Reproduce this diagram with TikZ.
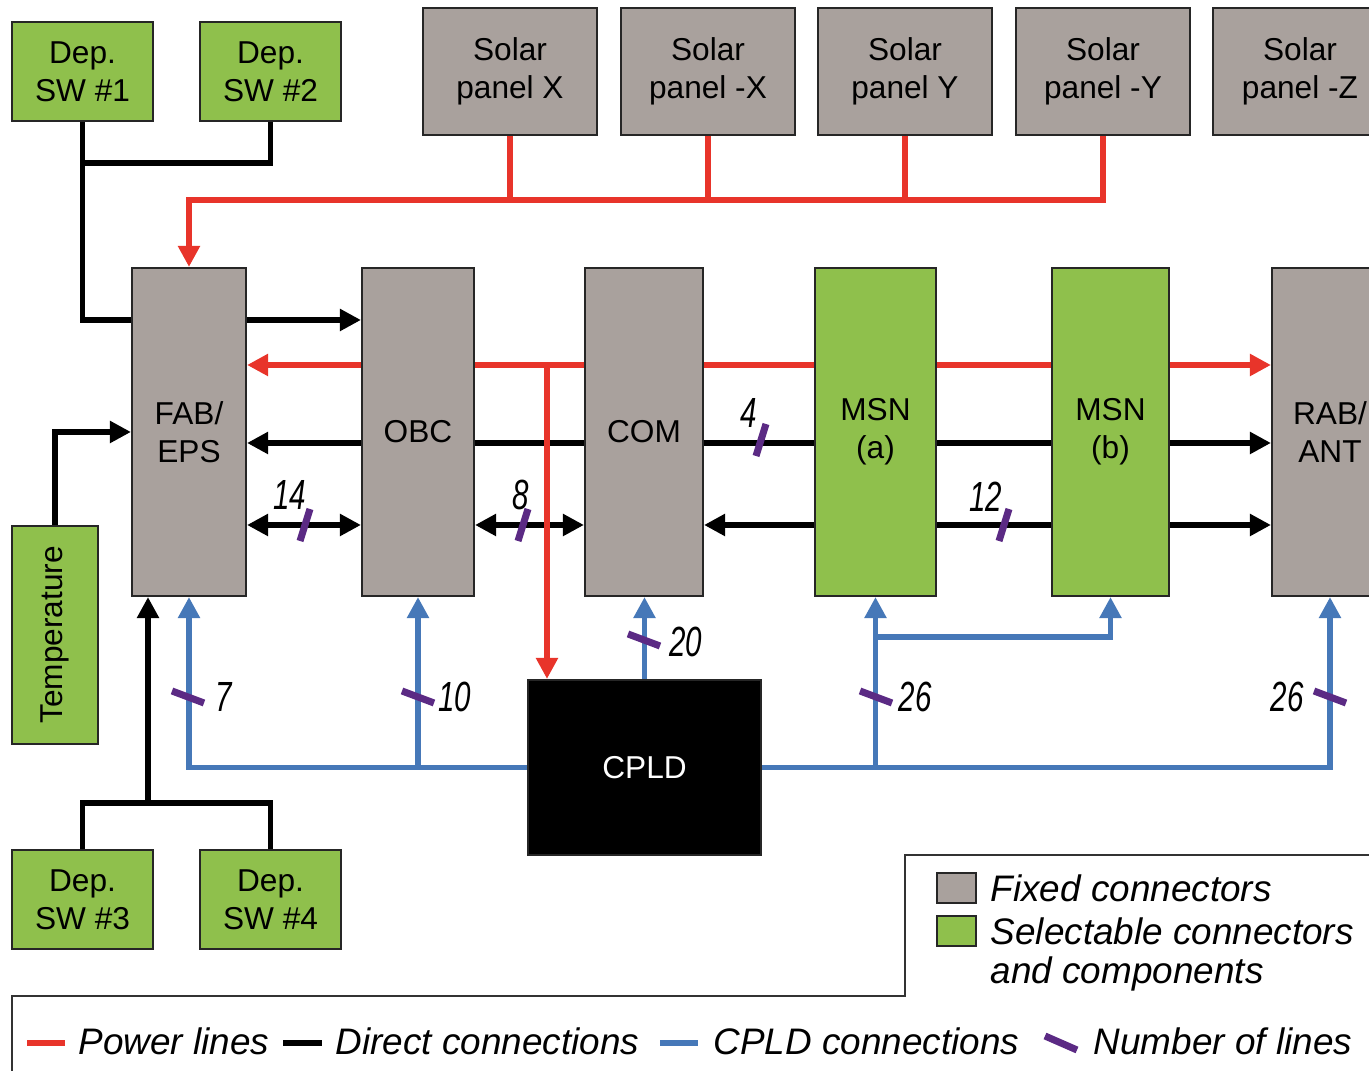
\documentclass[tikz,border=0pt]{standalone}
\usepackage{fontspec}
\setmainfont{Liberation Sans}
\usepackage{xcolor}
\usepackage{graphicx}
\usetikzlibrary{arrows.meta, positioning, calc}

\definecolor{fixgray}{HTML}{A9A19D}
\definecolor{selgreen}{HTML}{8FC04C}
\definecolor{pwred}{HTML}{E8342A}
\definecolor{cpldblue}{HTML}{4678B8}
\definecolor{nlpurple}{HTML}{5B2A84}

\tikzset{
    blk/.style={draw=black!85, line width=0.6pt, inner sep=0pt, align=center, font=\fontsize{9}{10.8}\selectfont},
    fixed/.style={blk, fill=fixgray},
    sel/.style={blk, fill=selgreen},
    pw/.style={pwred, line width=1.5pt},
    dc/.style={black, line width=1.7pt},
    cp/.style={cpldblue, line width=1.5pt},
    nl/.style={nlpurple, line width=2pt},
    num/.style={inner sep=0pt, font=\fontsize{12}{12}\selectfont\itshape},
    lgtext/.style={inner sep=0pt, anchor=west, font=\fontsize{10.5}{12}\selectfont\itshape},
}

\begin{document}
\begin{tikzpicture}[x=0.1mm, y=-0.1mm, >={Triangle[length=2.1mm,width=2.1mm]}]
    \useasboundingbox (0,0) rectangle (1369,1071);

    % deployment switches and temperature
    \node[sel, minimum width=14.1mm, minimum height=9.9mm] (sw1) at (82.5,71.5) {Dep.\\SW \#1};
    \node[sel, minimum width=14.1mm, minimum height=9.9mm] (sw2) at (270.5,71.5) {Dep.\\SW \#2};
    \node[sel, minimum width=14.1mm, minimum height=9.9mm] (sw3) at (82.5,899.5) {Dep.\\SW \#3};
    \node[sel, minimum width=14.1mm, minimum height=9.9mm] (sw4) at (270.5,899.5) {Dep.\\SW \#4};
    \node[sel, minimum width=8.6mm, minimum height=21.8mm] (temp) at (55,635) {\rotatebox{90}{Temperature}};

    % solar panels
    \foreach \n/\x/\lbl in {solX/510/X, solmX/708/-X, solY/905/Y, solmY/1103/-Y, solmZ/1300/-Z}
        \node[fixed, minimum width=17.4mm, minimum height=12.7mm] (\n) at (\x,71.5) {Solar\\panel \lbl};

    % main boards
    \node[fixed, minimum width=11.4mm, minimum height=32.8mm] (fab) at (189,432) {FAB/\\EPS};
    \node[fixed, minimum width=11.2mm, minimum height=32.8mm] (obc) at (418,432) {OBC};
    \node[fixed, minimum width=11.8mm, minimum height=32.8mm] (com) at (644,432) {COM};
    \node[sel, minimum width=12.1mm, minimum height=32.8mm] (msna) at (875.5,432) {MSN\\(a)};
    \node[sel, minimum width=11.7mm, minimum height=32.8mm] (msnb) at (1110.5,432) {MSN\\(b)};
    \node[fixed, minimum width=11.6mm, minimum height=32.8mm] (rab) at (1330,432) {RAB/\\ANT};
    \node[blk, fill=black, text=white, minimum width=23.3mm, minimum height=17.5mm] (cpld) at (644.5,767.5) {CPLD};

    % direct connections
    \draw[dc] (sw1.south) |- (fab.west |- 0,320);
    \draw[dc] (sw2.south) |- (sw1.south |- 0,163);
    \draw[dc,->] (fab.east |- 0,320) -- (obc.west |- 0,320);
    \draw[dc,->] (temp.north) |- (fab.west);
    \draw[dc] (sw3.north) |- (sw4.north |- 0,803) -- (sw4.north);
    \coordinate (swjoin) at (148,803);
    \draw[dc,->] (swjoin) -- (swjoin |- fab.south);

    \draw[dc,->] (obc.west |- 0,443) -- (fab.east |- 0,443);
    \draw[dc] (obc.east |- 0,443) -- (com.west |- 0,443);
    \draw[dc] (com.east |- 0,443) -- (msna.west |- 0,443);
    \draw[dc] (msna.east |- 0,443) -- (msnb.west |- 0,443);
    \draw[dc,->] (msnb.east |- 0,443) -- (rab.west |- 0,443);

    \draw[dc,<->] (fab.east |- 0,525) -- (obc.west |- 0,525);
    \draw[dc,<->] (obc.east |- 0,525) -- (com.west |- 0,525);
    \draw[dc,->] (msna.west |- 0,525) -- (com.east |- 0,525);
    \draw[dc] (msna.east |- 0,525) -- (msnb.west |- 0,525);
    \draw[dc,->] (msnb.east |- 0,525) -- (rab.west |- 0,525);

    % power lines
    \foreach \s in {solX, solmX, solY}
        \draw[pw] (\s.south) -- (\s.south |- 0,200);
    \draw[pw,->] (solmY.south) |- (fab.north |- 0,200) -- (fab.north);
    \draw[pw,->] (obc.west |- 0,365) -- (fab.east |- 0,365);
    \draw[pw] (obc.east |- 0,365) -- (com.west |- 0,365);
    \draw[pw] (com.east |- 0,365) -- (msna.west |- 0,365);
    \draw[pw] (msna.east |- 0,365) -- (msnb.west |- 0,365);
    \draw[pw,->] (msnb.east |- 0,365) -- (rab.west |- 0,365);
    \coordinate (pwtap) at (547,365);
    \draw[pw,->] (pwtap) -- (pwtap |- cpld.north);

    % CPLD connections
    \draw[cp,->] (cpld.west) -| (fab.south);
    \draw[cp,->] (obc.south |- cpld.west) -- (obc.south);
    \draw[cp,->] (cpld.north) -- (cpld.north |- com.south);
    \draw[cp,->] (cpld.east) -| (rab.south);
    \draw[cp,->] (msna.south |- cpld.east) -- (msna.south);
    \draw[cp,->] (msna.south |- 0,637) -| (msnb.south);

    % number of lines
    \foreach \cx/\cy in {305/525, 523/525, 761/440, 1004/525}
        \draw[nl] (\cx-5,\cy+16) -- (\cx+5,\cy-16);
    \foreach \cx/\cy in {188/697, 418/697, 644/640, 876/697, 1330/697}
        \draw[nl] (\cx-16,\cy-6) -- (\cx+16,\cy+6);
    \foreach \n/\x/\y/\t in {n14/290/495/14, n8/521/495/8, n4/749/413/4, n12/986/497/12,
                             n7/224/697/7, n10/455/697/10, n20/686/642/20, n26a/915/697/26, n26b/1287/697/26}
        \node[num] (\n) at (\x,\y) {\scalebox{0.7}[1]{\t}};

    % legend
    \draw[black!80, line width=0.6pt] (1369,855) -- (905,855) -- (905,996) -- (12,996) -- (12,1071);
    \node[fixed, minimum width=3.9mm, minimum height=3.0mm] (lgsqfix) at (956.5,888) {};
    \node[sel, minimum width=3.9mm, minimum height=3.0mm] (lgsqsel) at (956.5,931) {};
    \node[lgtext] (lgfix) at (990,888) {Fixed connectors};
    \node[lgtext] (lgsel) at (990,931) {Selectable connectors};
    \node[lgtext] (lgsel2) at (990,974) {and components};

    \draw[pw] (27,1043) -- (65,1043);
    \node[lgtext] (lgpw) at (78,1041) {Power lines};
    \draw[dc] (283,1043) -- (322,1043);
    \node[lgtext] (lgdc) at (335,1041) {Direct connections};
    \draw[cp] (660,1043) -- (698,1043);
    \node[lgtext] (lgcp) at (713,1041) {CPLD connections};
    \draw[nl] (1045,1036) -- (1077,1050);
    \node[lgtext] (lgnl) at (1093,1041) {Number of lines};
\end{tikzpicture}
\end{document}
